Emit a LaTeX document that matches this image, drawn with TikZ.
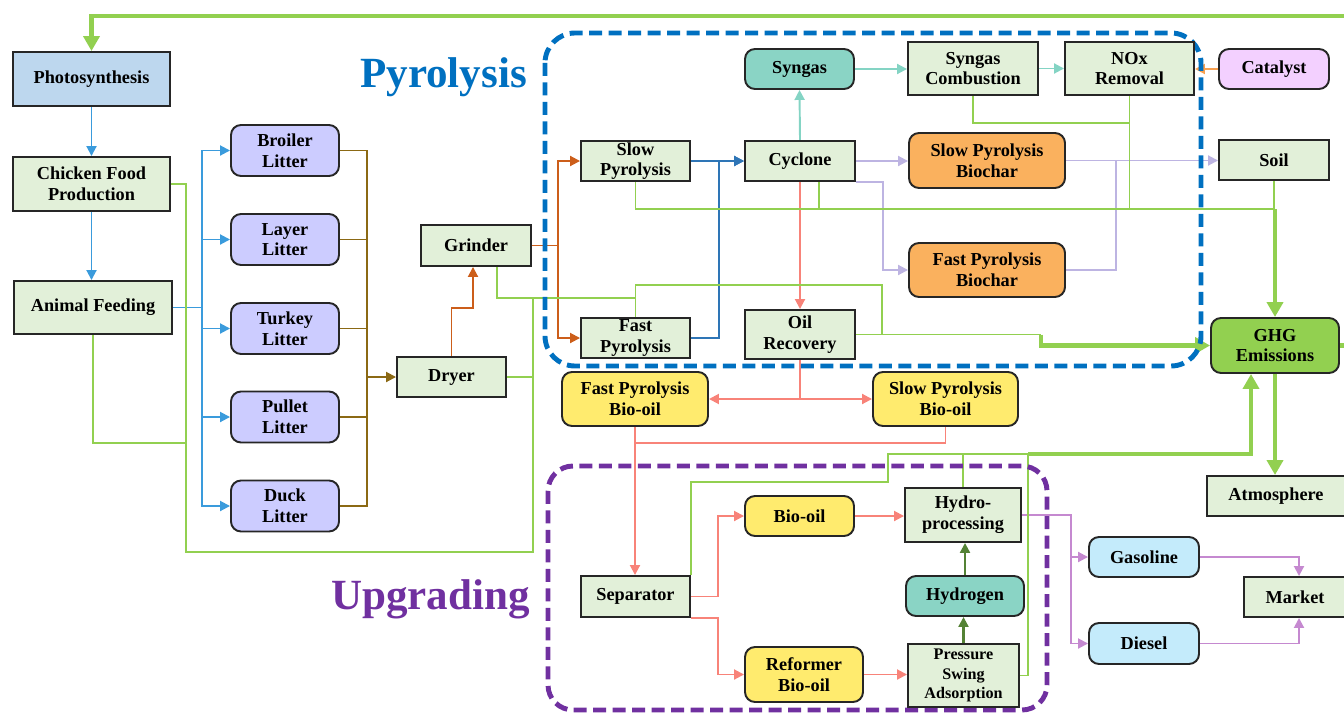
\documentclass[tikz,border=0pt]{standalone}
\usepackage{fontspec}
\setmainfont{Liberation Serif}
\usetikzlibrary{arrows.meta,calc}
\definecolor{bordc}{HTML}{262626}
\definecolor{lgreen}{HTML}{E2F0D9}
\definecolor{photoc}{HTML}{BDD7EE}
\definecolor{litc}{HTML}{CCCCFF}
\definecolor{tealc}{HTML}{8AD4C5}
\definecolor{orc}{HTML}{FAB15E}
\definecolor{yelc}{HTML}{FFEB6E}
\definecolor{pinkc}{HTML}{F3D0FF}
\definecolor{lbluec}{HTML}{C4EBFB}
\definecolor{ghgc}{HTML}{92D050}
\definecolor{pyrc}{HTML}{0070C0}
\definecolor{upgc}{HTML}{7030A0}
\definecolor{lbc}{HTML}{3A9BDC}
\definecolor{brc}{HTML}{8B6914}
\definecolor{orlc}{HTML}{CC5E1A}
\definecolor{dbc}{HTML}{2E75B6}
\definecolor{tlc}{HTML}{84D4C4}
\definecolor{lavc}{HTML}{BDB4E2}
\definecolor{redc}{HTML}{F88379}
\definecolor{purc}{HTML}{C589D0}
\definecolor{dgc}{HTML}{548235}
\definecolor{catc}{HTML}{F7A050}
\pgfdeclarelayer{bg}
\pgfdeclarelayer{mid}
\pgfsetlayers{bg,mid,main}
\tikzset{
  nd/.style={draw=bordc, line width=1.1pt, align=center, inner sep=0pt,
    font=\fontsize{10.4}{11.8}\selectfont\bfseries},
  sq/.style={nd, fill=lgreen},
  rd/.style={nd, rounded corners=0.2cm},
  wh/.style 2 args={minimum width=#1*0.02cm, minimum height=#2*0.02cm},
  conn/.style={line width=1.1pt},
  arr/.style={conn, -{Triangle[length=0.2cm,width=0.2cm]}},
  gthin/.style={line width=1.1pt, draw=ghgc},
  gthick/.style={line width=2.4pt, draw=ghgc},
  garr/.style={gthick, -{Triangle[length=0.3cm,width=0.32cm]}},
  dashbox/.style={line width=2.8pt, dash pattern=on 0.26cm off 0.13cm},
  title/.style={anchor=base, font=\fontsize{24.5}{28}\selectfont\bfseries}
}
\begin{document}
\begin{tikzpicture}[x=0.02cm,y=-0.02cm]
\useasboundingbox (0,0) rectangle (1344,713);
% nodes
\node[sq, fill=photoc, wh={157}{54}] (photo) at (91.5,79) {Photosynthesis};
\node[sq, wh={157}{54}] (chicken) at (91.5,184) {Chicken Food\\Production};
\node[sq, wh={158}{53}] (feed) at (93,307.5) {Animal Feeding};
\node[rd, fill=litc, wh={108}{51}] (broiler) at (285,150.5) {Broiler\\Litter};
\node[rd, fill=litc, wh={108}{51}] (layer) at (285,239.5) {Layer\\Litter};
\node[rd, fill=litc, wh={108}{51}] (turkey) at (285,328.5) {Turkey\\Litter};
\node[rd, fill=litc, wh={108}{51}] (pullet) at (285,417) {Pullet\\Litter};
\node[rd, fill=litc, wh={108}{51}] (duck) at (285,506) {Duck\\Litter};
\node[sq, wh={110}{41}] (grinder) at (476,245.5) {Grinder};
\node[sq, wh={109}{40}] (dryer) at (451.5,377) {Dryer};
\node[sq, wh={109}{40}] (slowp) at (635.5,161) {Slow\\Pyrolysis};
\node[sq, wh={109}{40}] (fastp) at (635.5,338) {Fast\\Pyrolysis};
\node[sq, wh={110}{40}] (cyclone) at (800,161) {Cyclone};
\node[rd, fill=tealc, wh={109}{40}] (syngas) at (799.5,69) {Syngas};
\node[sq, wh={110}{49}] (oilrec) at (800,334.5) {Oil\\Recovery};
\node[sq, wh={130}{53}] (sc) at (973,68.5) {Syngas\\Combustion};
\node[sq, wh={129}{53}] (nox) at (1129.5,68.5) {NOx\\Removal};
\node[rd, fill=pinkc, wh={110}{40}] (catalyst) at (1274,69) {Catalyst};
\node[rd, fill=orc, wh={156}{55}] (spb) at (987,160.5) {Slow Pyrolysis\\Biochar};
\node[rd, fill=orc, wh={156}{54}] (fpb) at (987,270) {Fast Pyrolysis\\Biochar};
\node[sq, wh={110}{40}] (soil) at (1274,160) {Soil};
\node[rd, fill=ghgc, wh={128}{55}] (ghg) at (1275,345.5) {GHG\\Emissions};
\node[rd, fill=yelc, wh={146}{54}] (fpbo) at (635,399) {Fast Pyrolysis\\Bio-oil};
\node[rd, fill=yelc, wh={145}{54}] (spbo) at (945.5,399) {Slow Pyrolysis\\Bio-oil};
\node[sq, wh={109}{41}] (sep) at (635.5,596.5) {Separator};
\node[rd, fill=yelc, wh={109}{40}] (biooil) at (799.5,516) {Bio-oil};
\node[sq, wh={116}{54}] (hydro) at (963,515) {Hydro-\\processing};
\node[rd, fill=tealc, wh={118}{40}] (hydrogen) at (965,596) {Hydrogen};
\node[rd, fill=yelc, wh={118}{55}] (reformer) at (804,674.5) {Reformer\\Bio-oil};
\node[sq, wh={111}{63}, font=\fontsize{9.2}{11.2}\selectfont\bfseries] (psa) at (963.5,675.5) {Pressure\\Swing\\Adsorption};
\node[sq, wh={138}{40}] (atm) at (1276,496) {Atmosphere};
\node[rd, fill=lbluec, wh={110}{40}] (gasoline) at (1144,557) {Gasoline};
\node[rd, fill=lbluec, wh={110}{41}] (diesel) at (1144,643.5) {Diesel};
\node[sq, wh={102}{40}] (market) at (1295,597) {Market};
\node[title, text=pyrc] (tpyr) at (443.5,88) {Pyrolysis};
\node[title, text=upgc] (tupg) at (430.5,609) {Upgrading};
% dashed regions
\begin{pgfonlayer}{mid}
\draw[dashbox, draw=pyrc, rounded corners=0.6cm] (545,33) rectangle (1201,366);
\draw[dashbox, draw=upgc, rounded corners=0.5cm] (548,466) rectangle (1047,710);
\end{pgfonlayer}
% connectors
\begin{pgfonlayer}{bg}
\draw[arr, lbc] (photo.south) -- (chicken.north);
\draw[arr, lbc] (chicken.south) -- (chicken.south |- feed.north);
\foreach \n in {broiler,layer,turkey,pullet,duck}
  \draw[arr, lbc] (feed.east) -- ++(29,0) |- (\n.west);
\coordinate (bj) at ($(dryer.west)+(-29,0)$);
\foreach \n in {broiler,layer,turkey,pullet,duck}
  \draw[conn, brc] (\n.east) -| (bj);
\draw[arr, brc] (bj) -- (dryer.west);
\draw[arr, orlc] (dryer.north) -- ++(0,-48) -| ($(grinder.south)+(-3,0)$);
\draw[arr, orlc] (grinder.east) -- ++(26,0) |- (slowp.west);
\draw[arr, orlc] (grinder.east) -- ++(26,0) |- (fastp.west);
\draw[arr, dbc] (slowp.east) -- (cyclone.west);
\draw[arr, dbc] (fastp.east) -- ++(28,0) |- (cyclone.west);
\draw[arr, tlc] (cyclone.north) -- (syngas.south);
\draw[arr, tlc] (syngas.east) -- (syngas.east -| sc.west);
\draw[arr, tlc] (sc.east) -- (nox.west);
\draw[arr, catc] (catalyst.west) -- (catalyst.west -| nox.east);
\draw[arr, lavc] (cyclone.east) -- (cyclone.east -| spb.west);
\draw[arr, lavc] (cyclone.south east) -- ++(27,0) |- (fpb.west);
\draw[arr, lavc] (spb.east) -- (spb.east -| soil.west);
\draw[conn, lavc] (fpb.east) -| ($(spb.east)+(50,0)$);
\draw[arr, redc] (cyclone.south) -- (oilrec.north);
\draw[arr, redc] (oilrec.south) |- (fpbo.east);
\draw[arr, redc] (oilrec.south) |- (spbo.west);
\draw[arr, redc] (fpbo.south) -- (fpbo.south |- sep.north);
\draw[conn, redc] (spbo.south) |- ($(fpbo.south)+(0,16)$);
\draw[arr, redc] (sep.east) -- ++(27,0) |- (biooil.west);
\draw[arr, redc] (sep.south east) -- ++(27,0) |- (reformer.west);
\draw[arr, redc] (biooil.east) -- (biooil.east -| hydro.west);
\draw[arr, redc] (reformer.east) -- (reformer.east -| psa.west);
\draw[arr, dgc, line width=1.3pt] (psa.north) -- (psa.north |- hydrogen.south);
\draw[arr, dgc, line width=1.3pt] (hydrogen.north) -- (hydrogen.north |- hydro.south);
\draw[arr, purc] (hydro.east) -- ++(49,0) |- (gasoline.west);
\draw[arr, purc] (hydro.east) -- ++(49,0) |- (diesel.west);
\draw[arr, purc] (gasoline.east) -| ($(market.north)+(4,0)$);
\draw[arr, purc] (diesel.east) -| ($(market.south)+(4,0)$);
% emissions
\draw[gthin] (chicken.east) -| (186,552) -| (533,298);
\draw[gthin] (feed.south) |- (186,443);
\draw[gthin] (dryer.east) -- (533,377);
\draw[gthin] ($(grinder.south)+(21,0)$) |- (636,298);
\draw[gthin] (fastp.north) -- ++(0,-32) -| (882,334.5);
\draw[gthin] (oilrec.east) -- ++(185,0) coordinate (oj);
\draw[garr] (oj) |- (ghg.west);
\coordinate (gj) at (1275,209);
\draw[gthin] (slowp.south) |- (gj);
\draw[gthin] ($(cyclone.south)+(19,0)$) -- ++(0,28);
\draw[gthin] (sc.south) |- ($(nox.south)+(0,27)$);
\draw[gthin] (nox.south) -- ++(0,114);
\draw[gthin] (soil.south) -- ++(0,29);
\draw[garr] (gj) -- (ghg.north);
\coordinate (uj) at (1028,454);
\draw[gthin] (sep.north east) |- (888,482) |- (uj);
\draw[gthin] (hydro.north) -- ++(0,-34);
\draw[gthin] (psa.east) -| (uj);
\draw[garr] (uj) -| ($(ghg.south)+(-24,0)$);
\draw[garr] (ghg.south) -- (ghg.south |- atm.north);
\draw[garr] (ghg.east) -- ++(30,0) |- ($(photo.north)+(0,-35)$) -- (photo.north);
\end{pgfonlayer}
\end{tikzpicture}
\end{document}
